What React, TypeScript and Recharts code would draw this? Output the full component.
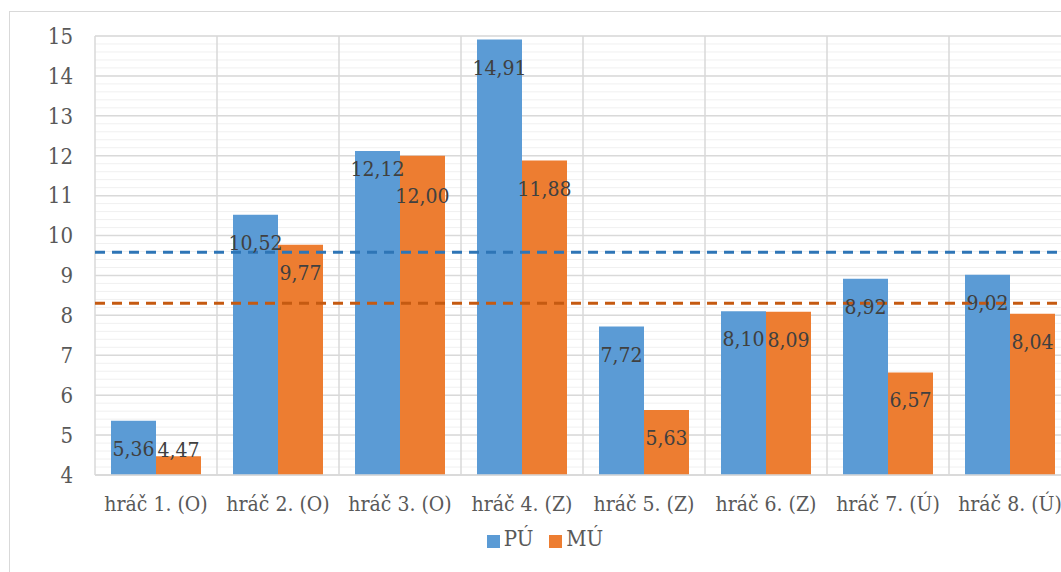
import { BarChart, Bar, XAxis, YAxis, CartesianGrid, ReferenceLine, LabelList } from 'recharts';

const players = ['hráč 1. (O)', 'hráč 2. (O)', 'hráč 3. (O)', 'hráč 4. (Z)', 'hráč 5. (Z)', 'hráč 6. (Z)', 'hráč 7. (Ú)', 'hráč 8. (Ú)'];
const pu = [5.36, 10.52, 12.12, 14.91, 7.72, 8.1, 8.92, 9.02];
const mu = [4.47, 9.77, 12.0, 11.88, 5.63, 8.09, 6.57, 8.04];
const yTicks = [4, 5, 6, 7, 8, 9, 10, 11, 12, 13, 14, 15];

const data = players.map((name, i) => ({ name, pu: pu[i], mu: mu[i] }));
const mean = (arr: number[]) => arr.reduce((a, b) => a + b, 0) / arr.length;

const fontStyle = { fontFamily: '"DejaVu Serif Condensed", "DejaVu Serif", serif', fontStretch: 'condensed' };
const BLUE = '#5b9bd5';
const ORANGE = '#ed7d31';

const fmt = (v: number) => v.toFixed(2).replace('.', ',');

// labels sit inside the top of the bar; long labels of near-equal bars get staggered
function makeLabel(series: 'pu' | 'mu') {
  return function BarLabel(props: any) {
    const { x, y, width, height, value, index } = props;
    let base = Math.min(y + 35, y + height - 18);
    const close = Math.abs(pu[index] - mu[index]) < 0.5 && value >= 10;
    if (close) base += series === 'pu' ? -10 : 12;
    return (
      <text x={x + width / 2} y={base} textAnchor="middle" fill="#404040" fontSize={21} style={fontStyle}>
        {fmt(value)}
      </text>
    );
  };
}
const PuLabel = makeLabel('pu');
const MuLabel = makeLabel('mu');

export default function App() {
  return (
    <div style={{ position: 'fixed', left: 0, top: 0, width: 1061, height: 572, overflow: 'hidden', background: '#fff' }}>
      <div style={{ position: 'absolute', left: 9, top: 11, width: 1200, height: 700, border: '1px solid #d9d9d9' }} />
      <div style={{ position: 'absolute', left: 0, top: 0 }}>
        <BarChart
          width={1100}
          height={572}
          data={data}
          margin={{ top: 36, right: 29, left: 0, bottom: 67 }}
          barCategoryGap={16}
          barGap={0}
        >
          <CartesianGrid
            stroke="#f0f0f0"
            vertical={false}
            horizontalCoordinatesGenerator={({ offset }: any) =>
              Array.from({ length: 56 }, (_, k) => offset.top + (offset.height * k) / 55)
            }
          />
          <CartesianGrid
            stroke="#d9d9d9"
            strokeWidth={1.5}
            verticalCoordinatesGenerator={({ offset }: any) =>
              Array.from({ length: 9 }, (_, k) => offset.left + (offset.width * k) / 8)
            }
          />
          <XAxis
            dataKey="name"
            height={30}
            axisLine={{ stroke: '#d9d9d9', strokeWidth: 1.5 }}
            tickLine={false}
            tickSize={0}
            tickMargin={21}
            interval={0}
            tick={{ fill: '#595959', fontSize: 21, style: fontStyle }}
          />
          <YAxis
            width={95}
            domain={[4, 15]}
            ticks={yTicks}
            axisLine={false}
            tickLine={false}
            tickSize={0}
            tickMargin={22}
            tick={{ fill: '#595959', fontSize: 22, style: fontStyle }}
          />
          <Bar dataKey="pu" name="PÚ" fill={BLUE} isAnimationActive={false}>
            <LabelList dataKey="pu" content={<PuLabel />} />
          </Bar>
          <Bar dataKey="mu" name="MÚ" fill={ORANGE} isAnimationActive={false}>
            <LabelList dataKey="mu" content={<MuLabel />} />
          </Bar>
          <ReferenceLine y={mean(pu)} stroke="#2e75b6" strokeWidth={3} strokeDasharray="10 7" />
          <ReferenceLine y={mean(mu)} stroke="#c55a11" strokeWidth={3} strokeDasharray="10 7" />
        </BarChart>
      </div>
      <div
        style={{
          position: 'absolute',
          left: 0,
          width: 1090,
          top: 526,
          textAlign: 'center',
          ...fontStyle,
          fontSize: 22,
          color: '#595959',
          lineHeight: '26px',
        }}
      >
        <span style={{ display: 'inline-flex', alignItems: 'center', margin: '0 8px' }}>
          <span style={{ width: 13, height: 13, background: BLUE, display: 'inline-block', marginRight: 4, marginTop: 5 }} />
          PÚ
        </span>
        <span style={{ display: 'inline-flex', alignItems: 'center', margin: '0 8px' }}>
          <span style={{ width: 13, height: 13, background: ORANGE, display: 'inline-block', marginRight: 4, marginTop: 5 }} />
          MÚ
        </span>
      </div>
    </div>
  );
}
